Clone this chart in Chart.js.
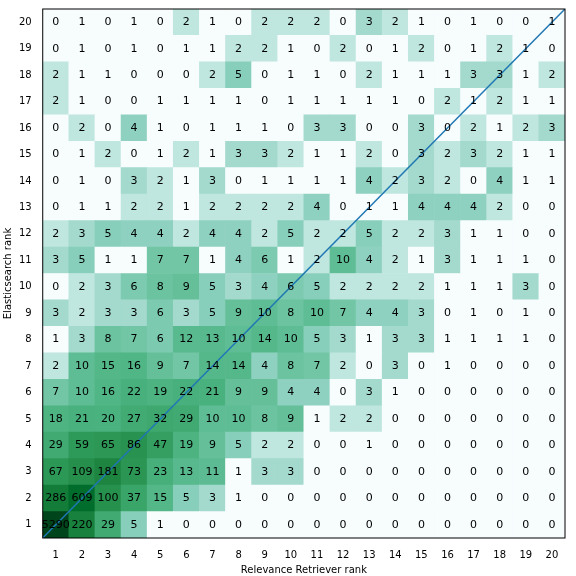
<!DOCTYPE html>
<html><head><meta charset="utf-8">
<script src="https://cdn.jsdelivr.net/npm/chart.js@4"></script>
<style>html,body{margin:0;padding:0;background:#fff}#w{width:576px;height:576px}</style>
</head><body><div id="w"><canvas id="c"></canvas></div>
<script>
const ranks = Array.from({length:20},(_,i)=>String(i+1));
// rows from Elasticsearch rank 20 down to 1, columns Relevance Retriever rank 1..20
const row20=[0,1,0,1,0,2,1,0,2,2,2,0,3,2,1,0,1,0,0,1];
const row19=[0,1,0,1,0,1,1,2,2,1,0,2,0,1,2,0,1,2,1,0];
const row18=[2,1,1,0,0,0,2,5,0,1,1,0,2,1,1,1,3,3,1,2];
const row17=[2,1,0,0,1,1,1,1,0,1,1,1,1,1,0,2,1,2,1,1];
const row16=[0,2,0,4,1,0,1,1,1,0,3,3,0,0,3,0,2,1,2,3];
const row15=[0,1,2,0,1,2,1,3,3,2,1,1,2,0,3,2,3,2,1,1];
const row14=[0,1,0,3,2,1,3,0,1,1,1,1,4,2,3,2,0,4,1,1];
const row13=[0,1,1,2,2,1,2,2,2,2,4,0,1,1,4,4,4,2,0,0];
const row12=[2,3,5,4,4,2,4,4,2,5,2,2,5,2,2,3,1,1,0,0];
const row11=[3,5,1,1,7,7,1,4,6,1,2,10,4,2,1,3,1,1,1,0];
const row10=[0,2,3,6,8,9,5,3,4,6,5,2,2,2,2,1,1,1,3,0];
const row9=[3,2,3,3,6,3,5,9,10,8,10,7,4,4,3,0,1,0,1,0];
const row8=[1,3,8,7,6,12,13,10,14,10,5,3,1,3,3,1,1,1,1,0];
const row7=[2,10,15,16,9,7,14,14,4,8,7,2,0,3,0,1,0,0,0,0];
const row6=[7,10,16,22,19,22,21,9,9,4,4,0,3,1,0,0,0,0,0,0];
const row5=[18,21,20,27,32,29,10,10,8,9,1,2,2,0,0,0,0,0,0,0];
const row4=[29,59,65,86,47,19,9,5,2,2,0,0,1,0,0,0,0,0,0,0];
const row3=[67,109,181,73,23,13,11,1,3,3,0,0,0,0,0,0,0,0,0,0];
const row2=[286,609,100,37,15,5,3,1,0,0,0,0,0,0,0,0,0,0,0,0];
const row1=[5290,220,29,5,1,0,0,0,0,0,0,0,0,0,0,0,0,0,0,0];
const rows=[row1,row2,row3,row4,row5,row6,row7,row8,row9,row10,row11,row12,row13,row14,row15,row16,row17,row18,row19,row20];

const stops=[[1,[247,252,253]],[2,[191,230,223]],[3,[163,218,205]],[4,[143,209,192]],[5,[136,207,187]],[7,[114,198,165]],[10,[95,189,149]],[20,[74,178,127]],[60,[46,154,88]],[180,[29,133,64]],[609,[0,109,44]],[5290,[0,68,27]]];
function col(v){
  if(v<=1) return 'rgb(247,252,253)';
  for(let i=1;i<stops.length;i++){
    if(v<=stops[i][0]){
      const a=stops[i-1],b=stops[i];
      const t=(Math.log(v)-Math.log(a[0]))/(Math.log(b[0])-Math.log(a[0]));
      const c=a[1].map((x,k)=>Math.round(x+(b[1][k]-x)*t));
      return `rgb(${c})`;
    }
  }
  return 'rgb(0,68,27)';
}
const datasets=rows.map((r,ri)=>({type:'bar',xAxisID:'x',data:r.map(()=>[ri+0.5,ri+1.5]),counts:r,
  backgroundColor:r.map(col),borderWidth:0,barPercentage:1,categoryPercentage:1,grouped:false,order:2}));
datasets.push({type:'line',xAxisID:'x2',data:[{x:0.5,y:0.5},{x:20.5,y:20.5}],borderColor:'#1f77b4',borderWidth:1.5,pointRadius:0,order:0});

const textPlugin={id:'txt',afterDatasetsDraw(ch){
  const ctx=ch.ctx,xs=ch.scales.x,ys=ch.scales.y;
  ctx.save();ctx.font='11px "DejaVu Sans"';ctx.fillStyle='#000';ctx.textAlign='center';ctx.textBaseline='middle';
  rows.forEach((r,ri)=>r.forEach((v,ci)=>ctx.fillText(String(v),xs.getPixelForValue(ci),ys.getPixelForValue(ri+1))));
  ctx.restore();
  const a=ch.chartArea;ctx.save();ctx.strokeStyle='#000';ctx.lineWidth=1;ctx.strokeRect(a.left,a.top,a.right-a.left,a.bottom-a.top);ctx.restore();
}};
new Chart(document.getElementById('c'),{data:{labels:ranks,datasets},
 options:{responsive:true,maintainAspectRatio:false,animation:false,
  layout:{padding:{top:8,right:11,left:0,bottom:0}},
  plugins:{legend:{display:false},tooltip:{enabled:false}},
  scales:{
   x:{type:'category',offset:true,grid:{display:false,drawTicks:true},border:{display:false},
      ticks:{color:'#000',font:{size:10,family:'DejaVu Sans'},maxRotation:0},
      title:{display:true,text:'Relevance Retriever rank',color:'#000',font:{size:10,family:'DejaVu Sans'},padding:0}},
   x2:{type:'linear',display:false,min:0.5,max:20.5},
   y:{type:'linear',min:0.5,max:20.5,grid:{display:false},border:{display:false},
      afterBuildTicks(s){s.ticks=ranks.map(t=>({value:+t}));},
      ticks:{color:'#000',font:{size:10,family:'DejaVu Sans'}},
      title:{display:true,text:'Elasticsearch rank',color:'#000',font:{size:10,family:'DejaVu Sans'},padding:2}}
  }},plugins:[textPlugin]});
</script></body></html>
